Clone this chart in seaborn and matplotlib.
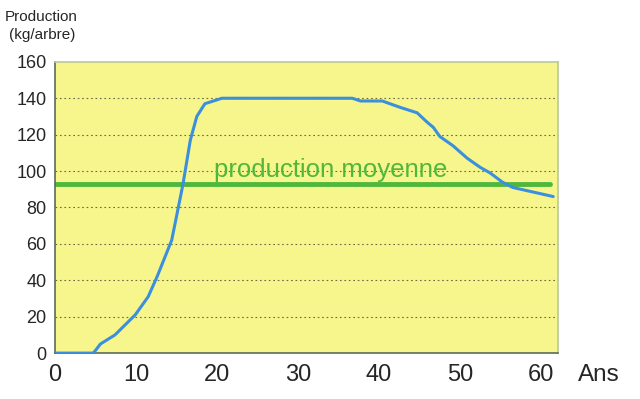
import seaborn as sns
import matplotlib.pyplot as plt
import pandas as pd

# production curve (years vs kg/tree)
ans = [0, 4.7, 5.0, 5.6, 7.4, 9.9, 11.5, 12.6, 14.4, 15.4, 15.8, 16.7, 17.5, 18.5,
       20.6, 36.7, 37.7, 40.4, 42.6, 44.7, 45.9, 46.7, 47.5, 49.1, 50.9, 52.5,
       53.7, 55.2, 56.5, 59.0, 61.5]
production = [0, 0, 1.5, 5, 10, 21, 31, 42, 62, 84, 93, 117, 130, 137,
              140, 140, 138.5, 138.5, 135, 132, 127, 124, 119, 114, 107, 102,
              99, 94, 91, 88.5, 86]
moyenne = 93
moyenne_label = "production moyenne"

df = pd.DataFrame({"ans": ans, "production": production})

sns.set_style("white")
plt.rcParams["font.family"] = ["Liberation Sans", "DejaVu Sans"]

fig = plt.figure(figsize=(6.4, 3.99), dpi=100)
ax = fig.add_axes([0.086, 0.115, 0.786, 0.73])
ax.set_facecolor("#f6f68d")

for y in range(20, 160, 20):
    ax.axhline(y, color="#6b6b45", lw=0.8, ls=(0, (1.5, 2.5)), zorder=1)

ax.plot([0, 61.1], [moyenne, moyenne], color="#4fb83c", lw=3.5, zorder=2)
sns.lineplot(data=df, x="ans", y="production", ax=ax, color="#3b8fdc", lw=2.2, zorder=3)
ax.text(34, 100.5, moyenne_label, color="#4fb83c", fontsize=18.5, ha="center", va="center", zorder=2)

ax.set_xlim(0, 62.1)
ax.set_ylim(0, 160)
ax.set_xticks(range(0, 61, 5))
ax.set_xticklabels([str(v) if v % 10 == 0 else "" for v in range(0, 61, 5)], fontsize=17)
ax.set_yticks(range(0, 161, 20))
ax.set_yticklabels([str(v) for v in range(0, 161, 20)], fontsize=13)
ax.tick_params(axis="both", length=4, color="#555555", direction="out", pad=2)
ax.tick_params(axis="x", pad=4)
ax.set_xlabel("")
ax.set_ylabel("")

for side in ["top", "right"]:
    ax.spines[side].set_color("#b9c99a")
    ax.spines[side].set_linewidth(1.2)
for side in ["left", "bottom"]:
    ax.spines[side].set_color("#5a6a5a")
    ax.spines[side].set_linewidth(1.2)

fig.text(0.008, 0.957, "Production", fontsize=11, ha="left", va="center")
fig.text(0.014, 0.912, "(kg/arbre)", fontsize=11, ha="left", va="center")
fig.text(0.935, 0.06, "Ans", fontsize=17.5, ha="center", va="center")

fig.savefig("out.png", dpi=100)
